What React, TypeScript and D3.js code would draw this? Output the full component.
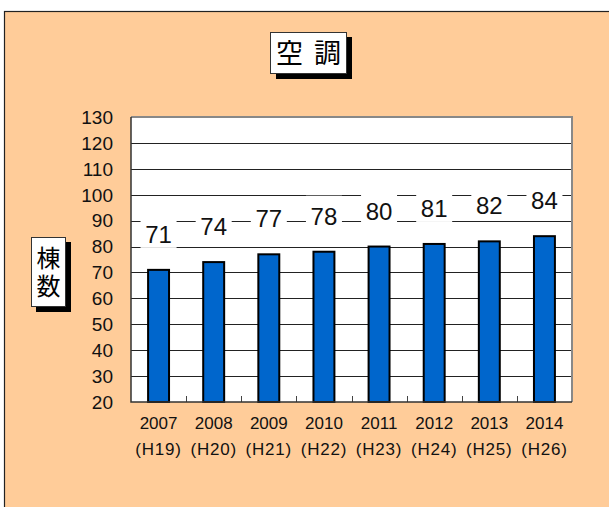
import { useEffect, useRef } from 'react';
import * as d3 from 'd3';

const years = ['2007', '2008', '2009', '2010', '2011', '2012', '2013', '2014'];
const eras = ['(H19)', '(H20)', '(H21)', '(H22)', '(H23)', '(H24)', '(H25)', '(H26)'];
const counts = [71, 74, 77, 78, 80, 81, 82, 84];
const yTicks = [20, 30, 40, 50, 60, 70, 80, 90, 100, 110, 120, 130];

const W = 609;
const H = 507;
const plot = { left: 131, top: 117, right: 572, bottom: 402 };
const latin = '"Liberation Sans", Arial, sans-serif';
const jp = '"Noto Sans CJK JP", sans-serif';

const App = () => {
    const ref = useRef<SVGSVGElement>(null);

    useEffect(() => {
        document.body.style.margin = '0';
        const svg = d3.select(ref.current);
        svg.selectAll('*').remove();

        const x = d3.scaleBand()
            .domain(years)
            .range([plot.left, plot.right])
            .paddingInner(0.62)
            .paddingOuter(0.31);
        const y = d3.scaleLinear()
            .domain([20, 130])
            .range([plot.bottom, plot.top]);
        const gap = (x.step() - x.bandwidth()) / 2;

        // background frame
        svg.append('rect')
            .attr('width', W).attr('height', H)
            .attr('fill', '#fff');
        svg.append('rect')
            .attr('x', 4.5).attr('y', 11.5)
            .attr('width', W + 10).attr('height', H + 10)
            .attr('fill', '#FFCC99')
            .attr('stroke', '#222')
            .attr('stroke-width', 1.2);

        // title
        const title = svg.append('g');
        title.append('rect')
            .attr('x', 276).attr('y', 37).attr('width', 76).attr('height', 42)
            .attr('fill', '#000');
        title.append('rect')
            .attr('x', 270.5).attr('y', 32.5).attr('width', 76).attr('height', 41)
            .attr('fill', '#fff').attr('stroke', '#333').attr('stroke-width', 1);
        title.append('text')
            .attr('x', 308.5).attr('y', 63)
            .attr('text-anchor', 'middle')
            .style('font-family', jp).style('font-size', '27px')
            .style('letter-spacing', '11px')
            .attr('dx', 5.5)
            .text('空調');

        // y axis title, written vertically
        const yt = svg.append('g');
        yt.append('rect')
            .attr('x', 36).attr('y', 242).attr('width', 35).attr('height', 70)
            .attr('fill', '#000');
        yt.append('rect')
            .attr('x', 31.5).attr('y', 237.5).attr('width', 34).attr('height', 69)
            .attr('fill', '#fff').attr('stroke', '#333').attr('stroke-width', 1);
        yt.append('text')
            .attr('x', 48.5).attr('y', 272)
            .attr('text-anchor', 'middle')
            .style('writing-mode', 'vertical-rl')
            .style('font-family', jp).style('font-size', '24px')
            .style('letter-spacing', '4px')
            .attr('dy', 2)
            .text('棟数');

        // plot area
        svg.append('rect')
            .attr('x', plot.left).attr('y', plot.top)
            .attr('width', plot.right - plot.left).attr('height', plot.bottom - plot.top)
            .attr('fill', '#fff');

        svg.append('g')
            .selectAll('line')
            .data(yTicks.filter(t => t > 20 && t < 130))
            .enter().append('line')
            .attr('x1', plot.left).attr('x2', plot.right)
            .attr('y1', d => Math.round(y(d)) + 0.5).attr('y2', d => Math.round(y(d)) + 0.5)
            .attr('stroke', '#222').attr('stroke-width', 1);

        // x ticks inside bottom, between categories
        svg.append('g')
            .selectAll('line')
            .data(years.slice(1))
            .enter().append('line')
            .attr('x1', d => Math.round(x(d)! - gap) + 0.5)
            .attr('x2', d => Math.round(x(d)! - gap) + 0.5)
            .attr('y1', plot.bottom).attr('y2', plot.bottom - 6)
            .attr('stroke', '#444');

        // bars
        svg.append('g')
            .selectAll('rect')
            .data(counts)
            .enter().append('rect')
            .attr('x', (_, i) => x(years[i])!)
            .attr('y', d => y(d))
            .attr('width', x.bandwidth())
            .attr('height', d => plot.bottom - y(d))
            .attr('fill', '#0066CC')
            .attr('stroke', '#000')
            .attr('stroke-width', 2);

        // borders
        svg.append('path')
            .attr('d', `M${plot.left},${plot.top}H${plot.right}V${plot.bottom}`)
            .attr('fill', 'none').attr('stroke', '#888').attr('stroke-width', 2);
        svg.append('path')
            .attr('d', `M${plot.left},${plot.top}V${plot.bottom}H${plot.right}`)
            .attr('fill', 'none').attr('stroke', '#333').attr('stroke-width', 1.5);

        // y tick labels
        svg.append('g')
            .selectAll('text')
            .data(yTicks)
            .enter().append('text')
            .attr('x', 113)
            .attr('y', d => y(d))
            .attr('dy', '0.36em')
            .attr('text-anchor', 'end')
            .style('font-family', latin).style('font-size', '19px')
            .attr('fill', '#111')
            .text(d => d);

        // data labels with white boxes
        const lab = svg.append('g')
            .selectAll('g')
            .data(counts)
            .enter().append('g')
            .attr('transform', (d, i) => `translate(${x(years[i])! + x.bandwidth() / 2}, ${y(d) - 27})`);
        lab.append('rect')
            .attr('x', -18).attr('y', -29).attr('width', 36).attr('height', 34)
            .attr('fill', '#fff');
        lab.append('text')
            .attr('text-anchor', 'middle')
            .style('font-family', latin).style('font-size', '24px')
            .attr('fill', '#111')
            .text(d => d);

        // x labels
        const xl = svg.append('g')
            .selectAll('g')
            .data(years)
            .enter().append('g')
            .attr('transform', d => `translate(${x(d)! + x.bandwidth() / 2}, 0)`);
        xl.append('text')
            .attr('y', 429)
            .attr('text-anchor', 'middle')
            .style('font-family', latin).style('font-size', '17px')
            .attr('fill', '#111')
            .text(d => d);
        xl.append('text')
            .attr('y', 455)
            .attr('text-anchor', 'middle')
            .style('font-family', latin).style('font-size', '17px')
            .style('letter-spacing', '0.8px')
            .attr('fill', '#111')
            .text((_, i) => eras[i]);
    }, []);

    return <svg ref={ref} width={W} height={H} style={{ display: 'block' }}></svg>;
};

export default App;
